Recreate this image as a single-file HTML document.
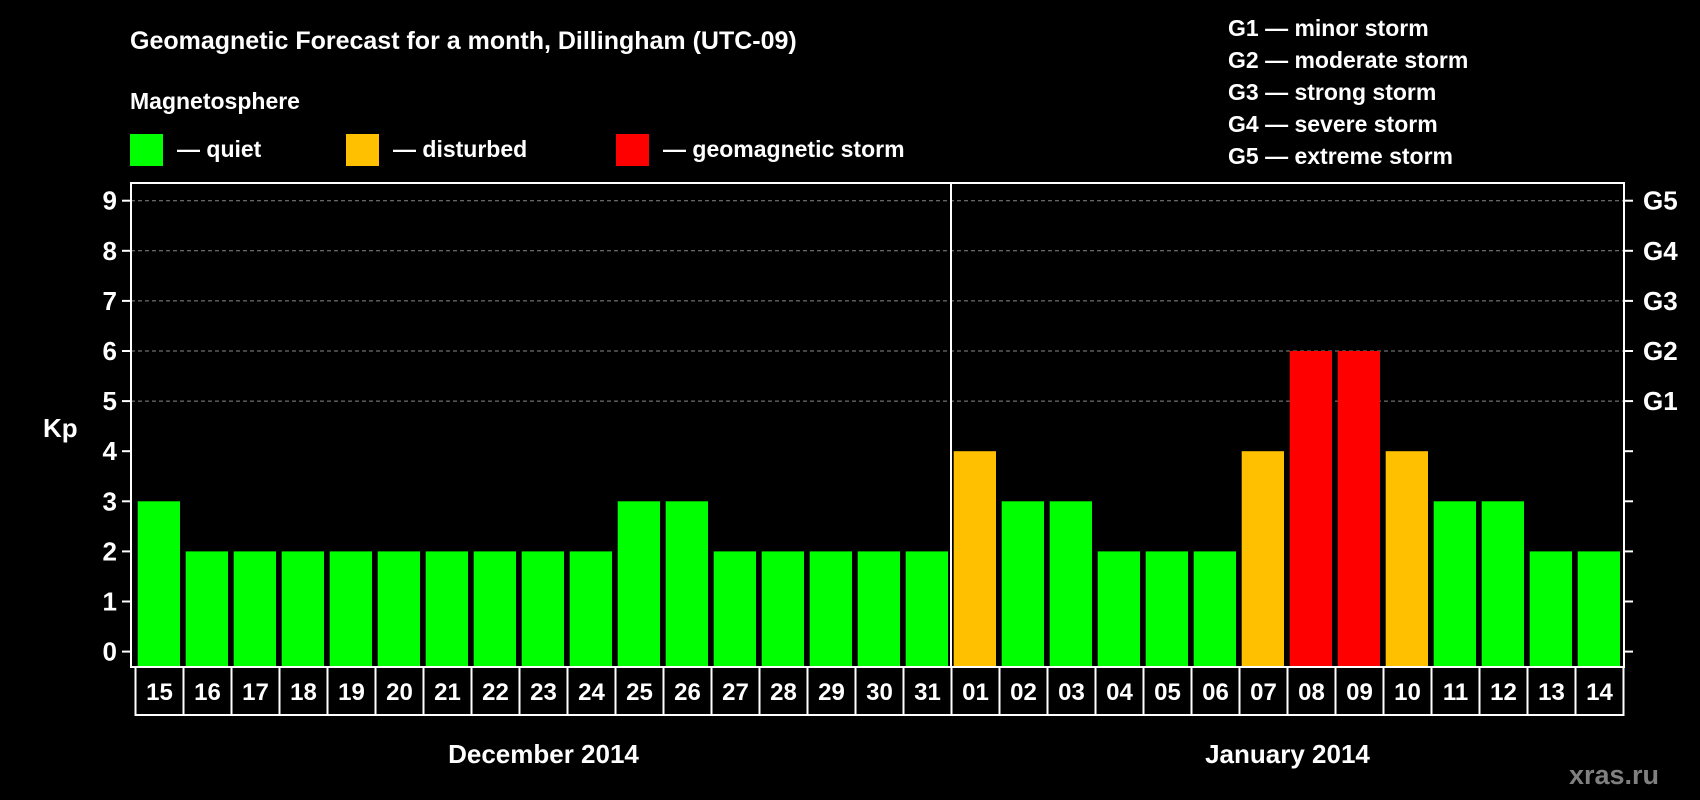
<!DOCTYPE html>
<html><head><meta charset="utf-8"><style>
html,body{margin:0;padding:0;background:#000;}
svg{display:block;font-family:"Liberation Sans",Arial,sans-serif;font-weight:bold;}
</style></head><body>
<svg id="chart" width="1700" height="800" viewBox="0 0 1700 800" xmlns="http://www.w3.org/2000/svg">
<rect width="1700" height="800" fill="#000"/>
<text x="130" y="49" fill="#fff" font-size="25">Geomagnetic Forecast for a month, Dillingham (UTC-09)</text>
<text x="130" y="109" fill="#fff" font-size="23">Magnetosphere</text>
<rect x="130" y="134" width="33" height="32" fill="#00ff00"/>
<text x="177" y="157" fill="#fff" font-size="23">— quiet</text>
<rect x="346" y="134" width="33" height="32" fill="#ffc000"/>
<text x="393" y="157" fill="#fff" font-size="23">— disturbed</text>
<rect x="616" y="134" width="33" height="32" fill="#ff0000"/>
<text x="663" y="157" fill="#fff" font-size="23">— geomagnetic storm</text>
<g fill="#fff" font-size="23">
<text x="1228" y="36">G1 — minor storm</text>
<text x="1228" y="68">G2 — moderate storm</text>
<text x="1228" y="100">G3 — strong storm</text>
<text x="1228" y="132">G4 — severe storm</text>
<text x="1228" y="164">G5 — extreme storm</text>
</g>
<text x="43" y="437" fill="#fff" font-size="26">Kp</text>
<text x="1659" y="784" fill="#808080" font-size="27" text-anchor="end">xras.ru</text>
<g id="plot"></g>
</svg>
<script>
const days = ["15","16","17","18","19","20","21","22","23","24","25","26","27","28","29","30","31","01","02","03","04","05","06","07","08","09","10","11","12","13","14"];
const kpValues = [3,2,2,2,2,2,2,2,2,2,3,3,2,2,2,2,2,4,3,3,2,2,2,4,6,6,4,3,3,2,2];
const yTicks = [0,1,2,3,4,5,6,7,8,9];
const gLabels = ["G1","G2","G3","G4","G5"];
const gLevels = [5,6,7,8,9];
const months = ["December 2014","January 2014"];

const NS = "http://www.w3.org/2000/svg";
const g = document.getElementById("plot");
const L = 131, R = 1624, T = 183, B = 667;
const y0 = 651.6, unit = 50.1;
const bx0 = 135.5, pitch = 48;
function yScale(v){ return y0 - v*unit; }
function xCell(i){ return bx0 + i*pitch; }
function mk(tag, attrs){ const e = document.createElementNS(NS, tag); for (const k in attrs) e.setAttribute(k, attrs[k]); g.appendChild(e); return e; }

// gridlines
gLevels.forEach(v => {
  const e = mk("line",{x1:L,x2:R,y1:yScale(v),y2:yScale(v),stroke:"#888","stroke-width":1,"stroke-dasharray":"4,3"});
  
  
});
// bars
kpValues.forEach((v,i) => {
  const col = v >= 5 ? "#ff0000" : (v >= 4 ? "#ffc000" : "#00ff00");
  const e = mk("rect",{x:xCell(i)+2.2,y:yScale(v),width:42.3,height:y0+14.8-yScale(v)-0.4,fill:col});
  
  
});
// frame
const fr = mk("rect",{x:L,y:T,width:R-L,height:B-T,fill:"none",stroke:"#fff","stroke-width":2});


// separator
const sepIdx = days.indexOf("01");
const sep = mk("line",{x1:xCell(sepIdx)-0.5,x2:xCell(sepIdx)-0.5,y1:T,y2:B,stroke:"#fff","stroke-width":2});


// y ticks
yTicks.forEach(v => {
  const y = yScale(v);
  const t1 = mk("line",{x1:L-9,x2:L,y1:y,y2:y,stroke:"#fff","stroke-width":2});
  
  
  const t2 = mk("line",{x1:R,x2:R+9,y1:y,y2:y,stroke:"#fff","stroke-width":2});
  
  
  const tx = mk("text",{x:L-14,y:y+9,fill:"#fff","font-size":26,"text-anchor":"end"});
  tx.textContent = v;
  
  
});
gLabels.forEach((lab,i) => {
  const tx = mk("text",{x:R+19,y:yScale(gLevels[i])+9,fill:"#fff","font-size":26});
  tx.textContent = lab;
  
  
});
// day label cells
days.forEach((d,i) => {
  const c = mk("rect",{x:xCell(i),y:B,width:pitch,height:48,fill:"none",stroke:"#fff","stroke-width":2});
  
  
  const tx = mk("text",{x:xCell(i)+pitch/2,y:B+33,fill:"#fff","font-size":24,"text-anchor":"middle"});
  tx.textContent = d;
  
  
});
// month labels
const m1 = mk("text",{x:(xCell(0)+xCell(sepIdx))/2,y:763,fill:"#fff","font-size":26,"text-anchor":"middle"});
m1.textContent = months[0];


const m2 = mk("text",{x:(xCell(sepIdx)+xCell(days.length))/2,y:763,fill:"#fff","font-size":26,"text-anchor":"middle"});
m2.textContent = months[1];


</script>
</body></html>
